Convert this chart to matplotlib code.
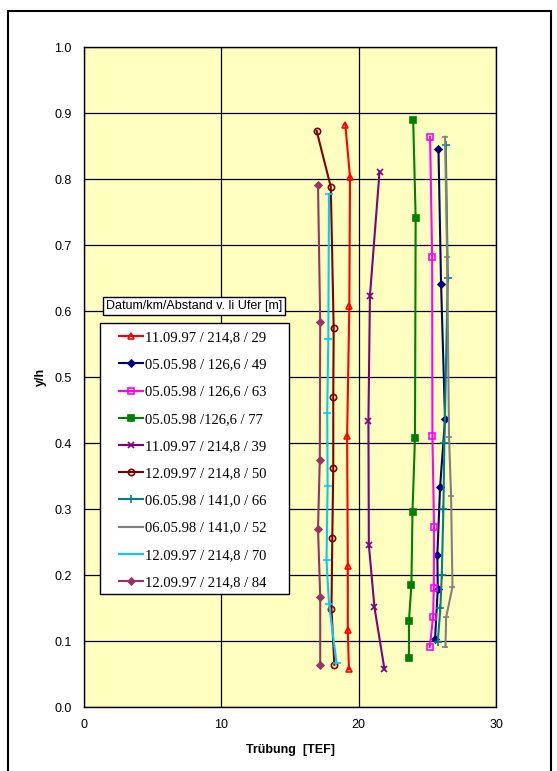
import matplotlib
matplotlib.use('Agg')
import matplotlib.pyplot as plt
from matplotlib.patches import Rectangle

labels = ['11.09.97 / 214,8 / 29', '05.05.98 / 126,6 / 49', '05.05.98 / 126,6 / 63',
          '05.05.98 /126,6 / 77', '11.09.97 / 214,8 / 39', '12.09.97 / 214,8 / 50',
          '06.05.98 / 141,0 / 66', '06.05.98 / 141,0 / 52', '12.09.97 / 214,8 / 70',
          '12.09.97 / 214,8 / 84']

# Truebung [TEF] and y/h for each profile
x29 = [19.03, 19.37, 19.32, 19.16, 19.21, 19.21, 19.29]
y29 = [0.882, 0.803, 0.607, 0.410, 0.213, 0.116, 0.057]
x49 = [25.81, 26.00, 26.29, 25.93, 25.73, 25.76, 25.56]
y49 = [0.846, 0.641, 0.436, 0.334, 0.231, 0.179, 0.103]
x63 = [25.20, 25.35, 25.37, 25.49, 25.47, 25.42, 25.18]
y63 = [0.864, 0.682, 0.410, 0.273, 0.181, 0.137, 0.091]
x77 = [23.97, 24.15, 24.10, 23.92, 23.84, 23.66, 23.66]
y77 = [0.890, 0.741, 0.408, 0.296, 0.185, 0.130, 0.075]
x39 = [21.52, 20.82, 20.71, 20.74, 21.15, 21.88]
y39 = [0.811, 0.623, 0.434, 0.246, 0.151, 0.057]
x50 = [16.94, 17.97, 18.18, 18.15, 18.15, 18.08, 18.02, 18.23]
y50 = [0.873, 0.788, 0.575, 0.469, 0.362, 0.256, 0.149, 0.064]
x66 = [26.34, 26.49, 26.24, 26.17, 26.05, 25.95, 25.76]
y66 = [0.851, 0.650, 0.400, 0.300, 0.200, 0.150, 0.099]
x52 = [26.29, 26.44, 26.58, 26.73, 26.83, 26.37, 26.32]
y52 = [0.864, 0.682, 0.409, 0.319, 0.182, 0.136, 0.091]
x70 = [17.84, 17.79, 17.71, 17.74, 17.66, 17.84, 18.39]
y70 = [0.777, 0.557, 0.445, 0.335, 0.222, 0.156, 0.067]
x84 = [17.04, 17.20, 17.17, 17.04, 17.20, 17.20]
y84 = [0.791, 0.583, 0.375, 0.270, 0.167, 0.063]

xs = [x29, x49, x63, x77, x39, x50, x66, x52, x70, x84]
ys = [y29, y49, y63, y77, y39, y50, y66, y52, y70, y84]

colors = ['#FF0000', '#000080', '#FF00FF', '#008000', '#800080',
          '#800000', '#008080', '#808080', '#00CCFF', '#993366']
markers = ['^', 'D', 's', 's', 'x', 'o', '+', '_', '_', 'D']
msizes = [5, 3.5, 5, 5, 5, 4.5, 6, 5, 6, 3.5]
fills = ['none', 'full', 'none', 'full', 'full', 'none', 'full', 'full', 'full', 'full']

fig = plt.figure(figsize=(5.57, 7.71), dpi=100)
fig.patches.append(Rectangle((8 / 557, -0.01), 543 / 557, 1 - 11 / 771 + 0.01,
                             transform=fig.transFigure, fill=False,
                             edgecolor='black', linewidth=1.5))

ax = fig.add_axes([84 / 557, 1 - 707 / 771, 412 / 557, 660 / 771])
ax.set_facecolor('#FFFFC0')

for i in range(len(xs)):
    mfc = 'none' if fills[i] == 'none' else colors[i]
    ax.plot(xs[i], ys[i], color=colors[i], marker=markers[i], markersize=msizes[i],
            markerfacecolor=mfc, markeredgecolor=colors[i], markeredgewidth=1.2,
            linewidth=1.5, label=labels[i])

ax.set_xlim(0, 30)
ax.set_ylim(0, 1.0)
ax.set_xticks([0, 10, 20, 30])
ax.set_yticks([i / 10 for i in range(11)])
ax.set_yticklabels(['%.1f' % (i / 10) for i in range(11)])
ax.grid(True, color='black', linewidth=0.9)
ax.set_axisbelow(True)
for s in ax.spines.values():
    s.set_linewidth(1.0)
ax.tick_params(length=0, pad=9, labelsize=9)
for t in ax.get_xticklabels() + ax.get_yticklabels():
    t.set_fontfamily('Liberation Sans')

ax.set_xlabel('Trübung  [TEF]', fontsize=9, fontweight='bold',
              fontfamily='Liberation Sans', labelpad=9)
ax.set_ylabel('y/h', fontsize=9, fontweight='bold',
              fontfamily='Liberation Sans', labelpad=5)

# legend frame drawn by hand so the padding matches
frame = Rectangle((100 / 557, 1 - 594 / 771), 189 / 557, 271 / 771,
                  transform=fig.transFigure, facecolor='white', edgecolor='black',
                  linewidth=1.0, zorder=4, clip_on=False)
ax.add_patch(frame)

leg = ax.legend(loc='upper left', bbox_to_anchor=(119 / 557, 1 - 331 / 771),
                bbox_transform=fig.transFigure, borderaxespad=0, borderpad=0,
                prop={'family': 'Liberation Serif', 'size': 10.5},
                frameon=False, handlelength=1.65, handletextpad=0.1,
                labelspacing=0.96, numpoints=1)
leg.set_zorder(5)

fig.text(194 / 557, 1 - 306 / 771, 'Datum/km/Abstand v. li Ufer [m]',
         ha='center', va='center', fontsize=9, fontfamily='Liberation Sans',
         bbox=dict(boxstyle='square,pad=0.25', facecolor='white',
                   edgecolor='black', linewidth=1.0))

plt.savefig('out.png', dpi=100)
